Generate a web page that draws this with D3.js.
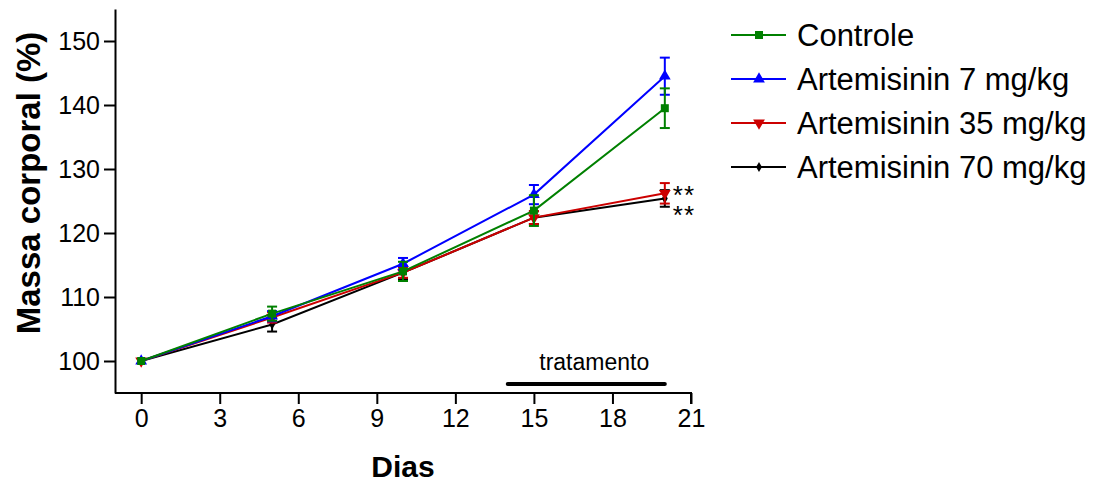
<!DOCTYPE html>
<html>
<head>
<meta charset="utf-8">
<script src="https://cdn.jsdelivr.net/npm/d3@7"></script>
<style>
  body { margin: 0; background: #fff; }
  svg { font-family: "Liberation Sans", Arial, sans-serif; }
</style>
</head>
<body>
<div id="chart"></div>
<script>
const days = [0, 5, 10, 15, 20];
const xTicks = [0, 3, 6, 9, 12, 15, 18, 21];
const yTicks = [100, 110, 120, 130, 140, 150];

const seriesNames = ["Controle", "Artemisinin 7 mg/kg", "Artemisinin 35 mg/kg", "Artemisinin 70 mg/kg"];
const controleMean = [100, 107.4, 114.0, 123.5, 139.5];
const controleSem = [0, 1.1, 1.5, 2.4, 3.1];
const art7Mean = [100, 107.0, 115.2, 126.0, 144.5];
const art7Sem = [0, 0.8, 0.9, 1.5, 2.9];
const art35Mean = [100, 106.8, 113.8, 122.4, 126.2];
const art35Sem = [0, 0.8, 0.8, 1.0, 1.6];
const art70Mean = [100, 105.7, 113.8, 122.4, 125.4];
const art70Sem = [0, 1.1, 1.0, 1.0, 1.3];

const treatment = [14, 20];
// significance marks at day 20 (value level of the "**")
const stars = [126.7, 123.6];

const width = 1094, height = 486;
const colors = ["#008000", "#0000ff", "#cc0000", "#000000"];
const symbols = [d3.symbolSquare, d3.symbolTriangle, d3.symbolTriangle, d3.symbolDiamond];
const symSize = [64, 60, 60, 30];
const symRotate = [0, 0, 180, 0];

const series = seriesNames.map((name, k) => ({
  name,
  color: colors[k],
  mean: [controleMean, art7Mean, art35Mean, art70Mean][k],
  sem: [controleSem, art7Sem, art35Sem, art70Sem][k]
}));

const x = d3.scaleLinear().domain([-1, 21]).range([115, 691]);
const y = d3.scaleLinear().domain([95, 155]).range([393, 9]);

const svg = d3.select("#chart").append("svg")
  .attr("width", width)
  .attr("height", height);

// axes
const xAxis = svg.append("g")
  .attr("transform", `translate(0,${y(95)})`)
  .call(d3.axisBottom(x).tickValues(xTicks).tickSize(11).tickPadding(5).tickSizeOuter(11));
const yAxis = svg.append("g")
  .attr("transform", `translate(${x(-1)},0)`)
  .call(d3.axisLeft(y).tickValues(yTicks).tickSize(11).tickPadding(4).tickSizeOuter(0));

[xAxis, yAxis].forEach(g => {
  g.selectAll("path, line").attr("stroke", "#000").attr("stroke-width", 2);
  g.selectAll("text").attr("fill", "#000").style("font-size", "25px")
    .style("font-family", "'Liberation Sans', Arial, sans-serif");
});
xAxis.select(".domain").attr("d", `M${x(-1)},0H${x(21)}V11`);

// axis titles
svg.append("text")
  .attr("transform", `translate(40,${(9 + 357) / 2}) rotate(-90)`)
  .attr("text-anchor", "middle")
  .style("font-size", "33px")
  .style("font-weight", "bold")
  .text("Massa corporal (%)");

svg.append("text")
  .attr("x", x(10))
  .attr("y", 477)
  .attr("text-anchor", "middle")
  .style("font-size", "30px")
  .style("font-weight", "bold")
  .text("Dias");

// treatment bar
svg.append("line")
  .attr("x1", x(treatment[0])).attr("x2", x(treatment[1]))
  .attr("y1", 384).attr("y2", 384)
  .attr("stroke", "#000").attr("stroke-width", 4).attr("stroke-linecap", "round");
svg.append("text")
  .attr("x", (x(treatment[0]) + x(treatment[1])) / 2 + 8)
  .attr("y", 370)
  .attr("text-anchor", "middle")
  .style("font-size", "23px")
  .text("tratamento");

// series (drawn back to front)
const line = d3.line().x(d => x(d.day)).y(d => y(d.v));
const order = [3, 2, 1, 0];
order.forEach(k => {
  const s = series[k];
  const pts = days.map((d, i) => ({ day: d, v: s.mean[i], e: s.sem[i] }));
  const g = svg.append("g");
  g.append("path")
    .datum(pts)
    .attr("fill", "none")
    .attr("stroke", s.color)
    .attr("stroke-width", 2)
    .attr("d", line);
  const eb = g.selectAll(".eb").data(pts.filter(p => p.e > 0)).enter().append("g");
  eb.append("line")
    .attr("x1", d => x(d.day)).attr("x2", d => x(d.day))
    .attr("y1", d => y(d.v - d.e)).attr("y2", d => y(d.v + d.e))
    .attr("stroke", s.color).attr("stroke-width", 2);
  [-1, 1].forEach(sg => {
    eb.append("line")
      .attr("x1", d => x(d.day) - 5).attr("x2", d => x(d.day) + 5)
      .attr("y1", d => y(d.v + sg * d.e)).attr("y2", d => y(d.v + sg * d.e))
      .attr("stroke", s.color).attr("stroke-width", 2);
  });
  g.selectAll(".pt").data(pts).enter().append("path")
    .attr("transform", d => `translate(${x(d.day)},${y(d.v)}) rotate(${symRotate[k]})`)
    .attr("d", d3.symbol(symbols[k], symSize[k]))
    .attr("fill", s.color);
});

// significance asterisks (one text, one line per mark)
svg.append("text")
  .style("font-size", "26px")
  .style("letter-spacing", "1px")
  .selectAll("tspan").data(stars).enter().append("tspan")
  .attr("x", x(20) + 8)
  .attr("y", d => y(d) + 14)
  .text("**");

// legend
const legend = svg.append("g").attr("transform", "translate(731,35)");
series.forEach((s, k) => {
  const row = legend.append("g").attr("transform", `translate(0,${k * 44})`);
  row.append("line").attr("x1", 0).attr("x2", 55).attr("y1", 0).attr("y2", 0)
    .attr("stroke", s.color).attr("stroke-width", 2);
  row.append("path")
    .attr("transform", `translate(28,0) rotate(${symRotate[k]})`)
    .attr("d", d3.symbol(symbols[k], symSize[k]))
    .attr("fill", s.color);
  row.append("text")
    .attr("x", 66).attr("y", 0).attr("dy", "0.36em")
    .style("font-size", "31px")
    .text(s.name);
});
</script>
</body>
</html>
